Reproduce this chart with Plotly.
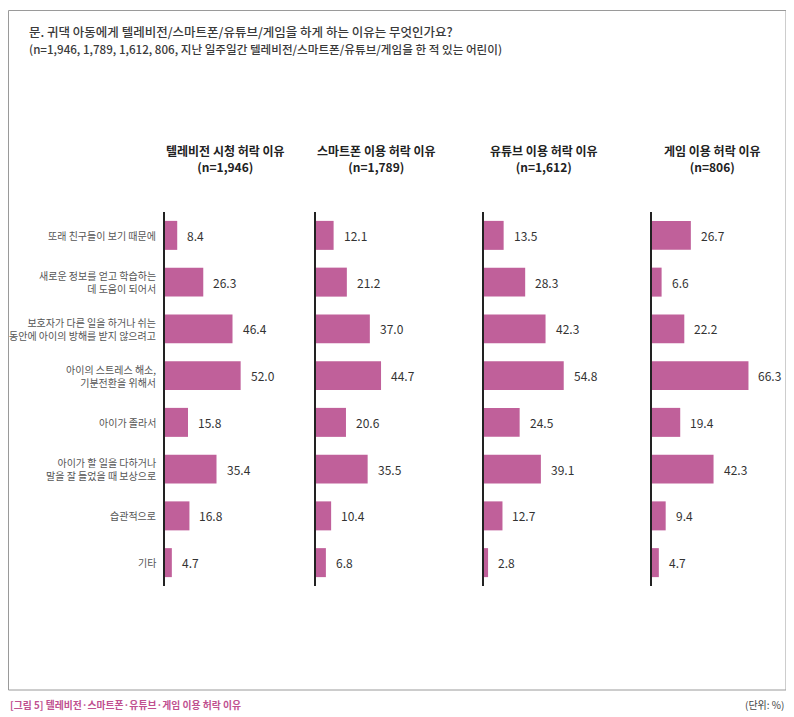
import plotly.graph_objects as go

# page body has an 8px margin: the figure starts at (8, 8) in the window
OFF = 8
W, H = 794 - OFF, 717 - OFF

categories = [
    "또래 친구들이 보기 때문에",
    "새로운 정보를 얻고 학습하는<br>데 도움이 되어서",
    "보호자가 다른 일을 하거나 쉬는<br>동안에 아이의 방해를 받지 않으려고",
    "아이의 스트레스 해소,<br>기분전환을 위해서",
    "아이가 졸라서",
    "아이가 할 일을 다하거나<br>말을 잘 들었을 때 보상으로",
    "습관적으로",
    "기타",
]

panel_titles = [
    "텔레비전 시청 허락 이유<br>(n=1,946)",
    "스마트폰 이용 허락 이유<br>(n=1,789)",
    "유튜브 이용 허락 이유<br>(n=1,612)",
    "게임 이용 허락 이유<br>(n=806)",
]

tv_values = [8.4, 26.3, 46.4, 52.0, 15.8, 35.4, 16.8, 4.7]
smartphone_values = [12.1, 21.2, 37.0, 44.7, 20.6, 35.5, 10.4, 6.8]
youtube_values = [13.5, 28.3, 42.3, 54.8, 24.5, 39.1, 12.7, 2.8]
game_values = [26.7, 6.6, 22.2, 66.3, 19.4, 42.3, 9.4, 4.7]

series = [tv_values, smartphone_values, youtube_values, game_values]

question_line1 = "문. 귀댁 아동에게 텔레비전/스마트폰/유튜브/게임을 하게 하는 이유는 무엇인가요?"
question_line2 = "(n=1,946, 1,789, 1,612, 806, 지난 일주일간 텔레비전/스마트폰/유튜브/게임을 한 적 있는 어린이)"
footer_left = "[그림 5] 텔레비전·스마트폰·유튜브·게임 이용 허락 이유"
footer_right = "(단위: %)"

FONT = "Noto Sans CJK KR"
BAR = "#C0609A"


def px(x):
    return (x - OFF) / W


def py(y):
    return 1 - (y - OFF) / H


panel_starts = [165, 316, 484, 652]
panel_width = 130
px_per_unit = 1.455
xmax = panel_width / px_per_unit

y_top_px, y_bot_px = 212, 586
ydom = [py(y_bot_px), py(y_top_px)]

fig = go.Figure()
layout = dict(
    width=W, height=H,
    margin=dict(l=0, r=0, t=0, b=0),
    paper_bgcolor="white", plot_bgcolor="white",
    showlegend=False,
    bargap=0.38,
    font=dict(family=FONT, color="#333"),
)

annotations = []
for i, (vals, start) in enumerate(zip(series, panel_starts)):
    n = "" if i == 0 else str(i + 1)
    xa, ya = "x" + n, "y" + n
    fig.add_trace(go.Bar(
        x=vals, y=categories, orientation="h",
        marker=dict(color=BAR, line=dict(width=0)),
        xaxis=xa, yaxis=ya, hoverinfo="x+y",
    ))
    layout["xaxis" + n] = dict(
        domain=[px(start), px(start + panel_width)],
        range=[0, xmax], visible=False, fixedrange=True,
        anchor=ya,
    )
    layout["yaxis" + n] = dict(
        domain=ydom, anchor=xa,
        categoryorder="array", categoryarray=categories,
        autorange="reversed",
        showline=True, linecolor="#222", linewidth=1.5,
        showgrid=False, zeroline=False, ticks="",
        showticklabels=False,
    )
    for v, c in zip(vals, categories):
        annotations.append(dict(
            x=v, y=c, xref=xa, yref=ya, text=f"{v:.1f}",
            showarrow=False, xanchor="left", xshift=8,
            font=dict(family=FONT, size=12, color="#333"),
        ))
    annotations.append(dict(
        x=px(start + 60), y=py(158), xref="paper", yref="paper",
        text="<b>" + panel_titles[i] + "</b>", showarrow=False,
        xanchor="center", yanchor="middle", align="center",
        font=dict(family=FONT, size=12, color="#222"),
    ))

# category labels, right-aligned next to the first axis
for c in categories:
    annotations.append(dict(
        x=0, y=c, xref="x", yref="y", text=c,
        showarrow=False, xanchor="right", yanchor="middle", align="right",
        xshift=-7,
        font=dict(family=FONT, size=10, color="#555"),
    ))

annotations += [
    dict(x=px(27), y=py(32), xref="paper", yref="paper", text=question_line1,
         showarrow=False, xanchor="left", yanchor="middle",
         font=dict(family=FONT, size=12.5, color="#3a3a3a", weight=500)),
    dict(x=px(27), y=py(49), xref="paper", yref="paper", text=question_line2,
         showarrow=False, xanchor="left", yanchor="middle",
         font=dict(family=FONT, size=11.6, color="#3a3a3a", weight=500)),
    dict(x=px(8), y=py(705), xref="paper", yref="paper", text="<b>" + footer_left + "</b>",
         showarrow=False, xanchor="left", yanchor="middle",
         font=dict(family=FONT, size=9.8, color="#C0508F")),
    dict(x=px(786), y=py(704), xref="paper", yref="paper", text=footer_right,
         showarrow=False, xanchor="right", yanchor="middle",
         font=dict(family=FONT, size=10, color="#444")),
]
layout["annotations"] = annotations
layout["shapes"] = [dict(
    type="rect", xref="paper", yref="paper",
    x0=px(8.5), x1=px(786), y0=py(690), y1=py(10.5),
    line=dict(color="#9a9a9a", width=1), fillcolor="rgba(0,0,0,0)",
)]

fig.update_layout(**layout)
fig.write_html("out.html")
